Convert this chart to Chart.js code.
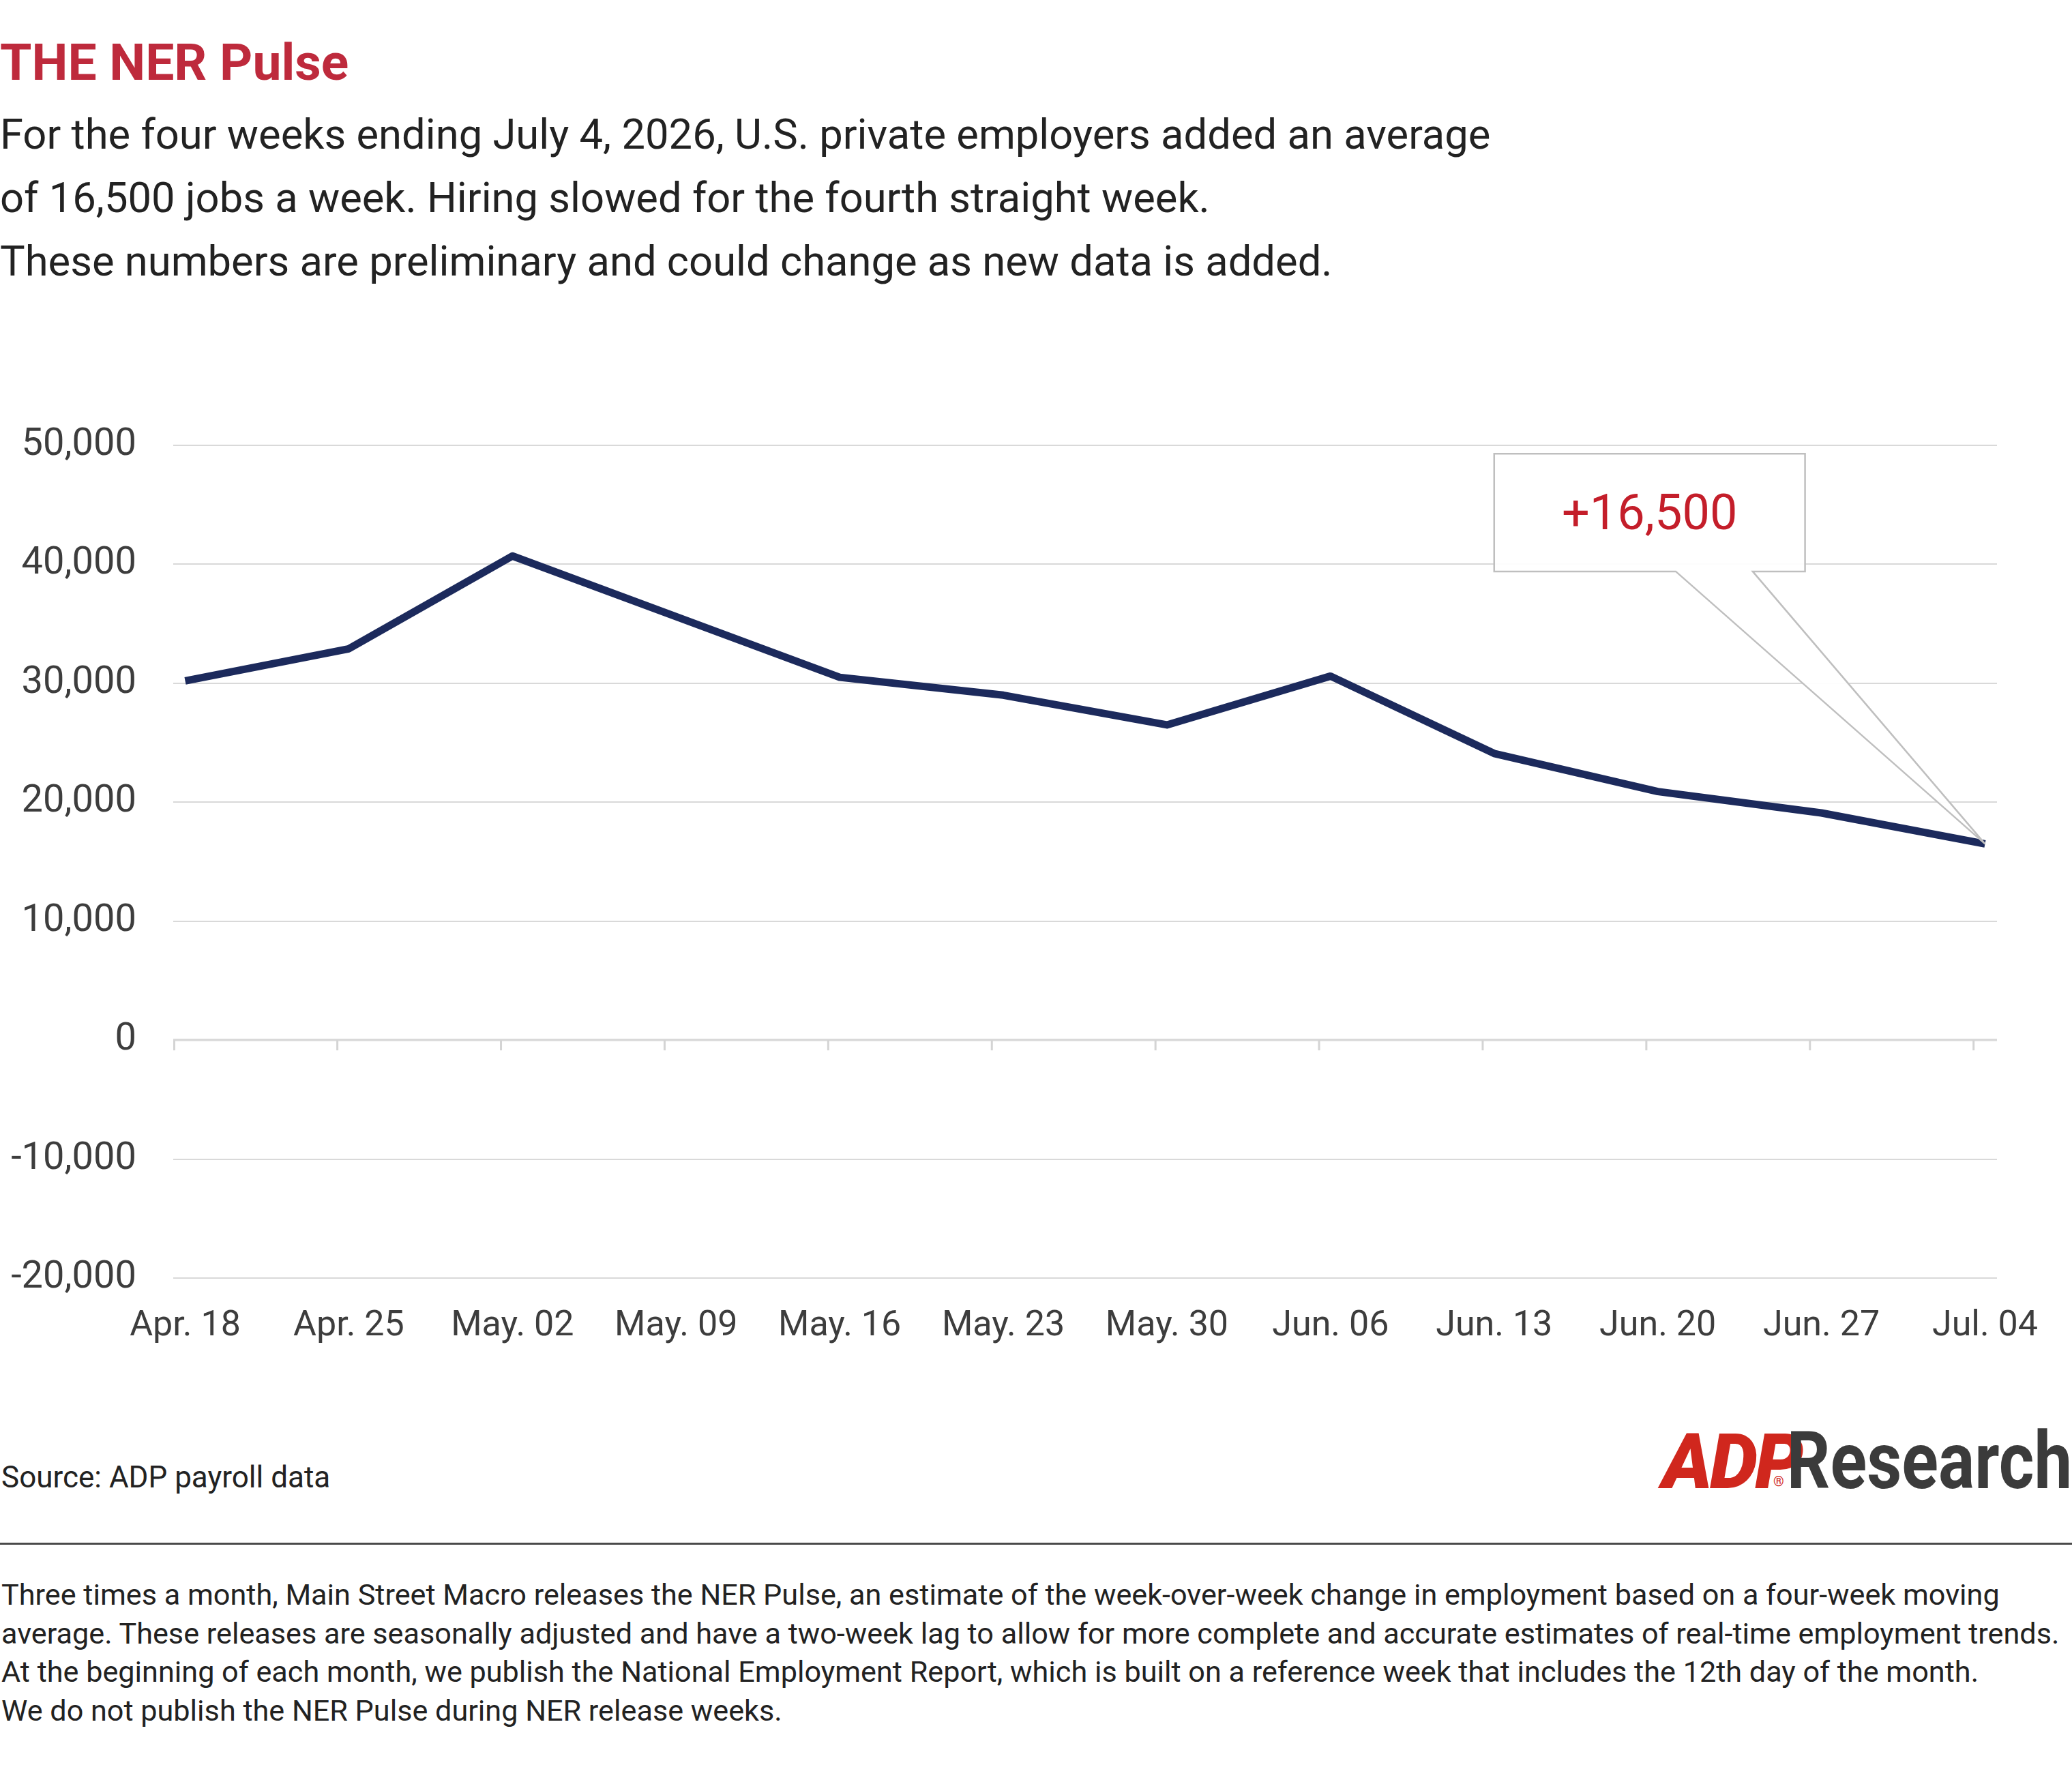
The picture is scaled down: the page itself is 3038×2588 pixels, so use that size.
<!DOCTYPE html>
<html>
<head>
<meta charset="utf-8">
<script src="https://cdn.jsdelivr.net/npm/chart.js@4.4.1/dist/chart.umd.min.js"></script>
<style>
    html, body { margin: 0; padding: 0; background: #fff; }
    body { width: 3038px; height: 2588px; position: relative; overflow: hidden; font-family: Roboto, "Noto Sans", sans-serif; }
    .abs { position: absolute; white-space: nowrap; }
    #title { left: 0; top: 54px; font-size: 75px; line-height: 1; font-weight: 700; color: #BE2A3C; }
    #subtitle { left: 0; top: 151px; font-size: 61.5px; line-height: 93px; color: #222; }
    #source { left: 2px; top: 2144px; font-size: 44px; line-height: 1; color: #222; }
    #rule { left: 0; top: 2262px; width: 3038px; height: 3px; background: #4a4a4a; }
    #notes { left: 2px; top: 2311px; font-size: 43.2px; line-height: 56.5px; color: #222; }
    #logo-adp { left: 2437px; top: 2088px; font-size: 112px; line-height: 1; font-weight: 900; font-style: italic; color: #D0271D; letter-spacing: -4px; }
    #logo-reg { left: 2600px; top: 2162px; font-size: 20px; line-height: 1; color: #D0271D; }
    #logo-research { right: 0; top: 2084px; font-size: 117px; line-height: 1; font-weight: 700; color: #3b3b3b; transform: scaleX(0.85); transform-origin: right top; }
    #chart { position: absolute; left: 0; top: 560px; }
</style>
</head>
<body>
<div class="abs" id="title">THE NER Pulse</div>
<div class="abs" id="subtitle">For the four weeks ending July 4, 2026, U.S. private employers added an average<br>of 16,500 jobs a week. Hiring slowed for the fourth straight week.<br>These numbers are preliminary and could change as new data is added.</div>

<canvas id="chart" width="3038" height="1440"></canvas>

<div class="abs" id="source">Source: ADP payroll data</div>
<div class="abs" id="logo-adp">ADP</div>
<div class="abs" id="logo-reg">®</div>
<div class="abs" id="logo-research">Research</div>
<div class="abs" id="rule"></div>
<div class="abs" id="notes">Three times a month, Main Street Macro releases the NER Pulse, an estimate of the week-over-week change in employment based on a four-week moving<br>average. These releases are seasonally adjusted and have a two-week lag to allow for more complete and accurate estimates of real-time employment trends.<br>At the beginning of each month, we publish the National Employment Report, which is built on a reference week that includes the 12th day of the month.<br>We do not publish the NER Pulse during NER release weeks.</div>

<script>
// Week ending dates
const weeks = ['Apr. 18', 'Apr. 25', 'May. 02', 'May. 09', 'May. 16', 'May. 23',
               'May. 30', 'Jun. 06', 'Jun. 13', 'Jun. 20', 'Jun. 27', 'Jul. 04'];

// Weekly job change, four-week moving average
const jobs = [30200, 32900, 40700, 35600, 30500, 29000, 26500, 30600, 24100, 20900, 19100, 16500];

// Y axis ticks
const yTicks = [-20000, -10000, 0, 10000, 20000, 30000, 40000, 50000];

// Callout label for the latest week
const calloutText = '+16,500';

const NAVY = '#1c2a5c';
const GRID = '#d9d9d9';
const AXIS_TEXT = '#3d3d3d';

// Callout box, in axis units
const callout = { x0: 8.0, x1: 9.9, yTop: 49300, yBottom: 39400, baseL: 9.11, baseR: 9.58 };

// Draws the tick marks hanging off the zero line
const zeroTicks = {
    id: 'zeroTicks',
    beforeDatasetsDraw(chart) {
        const { ctx, scales: { x, y } } = chart;
        const y0 = y.getPixelForValue(0);
        ctx.save();
        ctx.strokeStyle = '#d4d4d4';
        ctx.lineWidth = 3;
        weeks.forEach((w, i) => {
            const px = Math.max(x.getPixelForValue(i - 0.07), x.left + 1.5);
            ctx.beginPath();
            ctx.moveTo(px, y0);
            ctx.lineTo(px, y0 + 15);
            ctx.stroke();
        });
        ctx.restore();
    }
};

// Speech-bubble callout pointing at the last point
const calloutPlugin = {
    id: 'calloutBox',
    afterDatasetsDraw(chart) {
        const { ctx, scales: { x, y } } = chart;
        const last = jobs.length - 1;
        const tipX = x.getPixelForValue(last);
        const tipY = y.getPixelForValue(jobs[last]);
        const l = x.getPixelForValue(callout.x0), r = x.getPixelForValue(callout.x1);
        const t = y.getPixelForValue(callout.yTop), b = y.getPixelForValue(callout.yBottom);
        const bl = x.getPixelForValue(callout.baseL), br = x.getPixelForValue(callout.baseR);

        ctx.save();
        ctx.beginPath();
        ctx.moveTo(l, t);
        ctx.lineTo(r, t);
        ctx.lineTo(r, b);
        ctx.lineTo(br, b);
        ctx.lineTo(tipX, tipY);
        ctx.lineTo(bl, b);
        ctx.lineTo(l, b);
        ctx.closePath();
        ctx.fillStyle = 'rgba(255,255,255,0.95)';
        ctx.fill();
        ctx.strokeStyle = '#bfbfbf';
        ctx.lineWidth = 2.5;
        ctx.lineJoin = 'miter';
        ctx.stroke();

        ctx.fillStyle = '#C41E2A';
        ctx.font = '72px Roboto';
        ctx.textAlign = 'center';
        ctx.textBaseline = 'middle';
        ctx.fillText(calloutText, (l + r) / 2, (t + b) / 2 + 6);
        ctx.restore();
    }
};

new Chart(document.getElementById('chart'), {
    type: 'line',
    data: {
        datasets: [{
            data: jobs.map((v, i) => ({ x: i, y: v })),
            borderColor: NAVY,
            borderWidth: 11,
            borderJoinStyle: 'round',
            pointRadius: 0,
            tension: 0,
            clip: false
        }]
    },
    options: {
        responsive: false,
        devicePixelRatio: 1,
        animation: false,
        layout: { padding: { top: 93, right: 110, bottom: 0, left: 0 } },
        plugins: { legend: { display: false }, tooltip: { enabled: false } },
        scales: {
            x: {
                type: 'linear',
                min: -0.073,
                max: 11.073,
                afterBuildTicks: scale => { scale.ticks = weeks.map((w, i) => ({ value: i })); },
                afterFit: scale => { scale.height = 126; },
                grid: { display: false, drawTicks: false },
                border: { display: false },
                ticks: {
                    autoSkip: false,
                    maxRotation: 0,
                    padding: 40,
                    color: AXIS_TEXT,
                    font: { family: 'Roboto', size: 52 },
                    callback: v => weeks[v]
                }
            },
            y: {
                min: -20000,
                max: 50000,
                afterBuildTicks: scale => { scale.ticks = yTicks.map(v => ({ value: v })); },
                afterFit: scale => { scale.width = 254; },
                grid: {
                    drawTicks: false,
                    color: GRID,
                    lineWidth: c => c.tick && c.tick.value === 0 ? 3.5 : 2
                },
                border: { display: false },
                ticks: {
                    padding: 54,
                    color: AXIS_TEXT,
                    font: { family: 'Roboto', size: 56 },
                    callback: v => v.toLocaleString('en-US')
                }
            }
        }
    },
    plugins: [zeroTicks, calloutPlugin]
});
</script>
</body>
</html>
